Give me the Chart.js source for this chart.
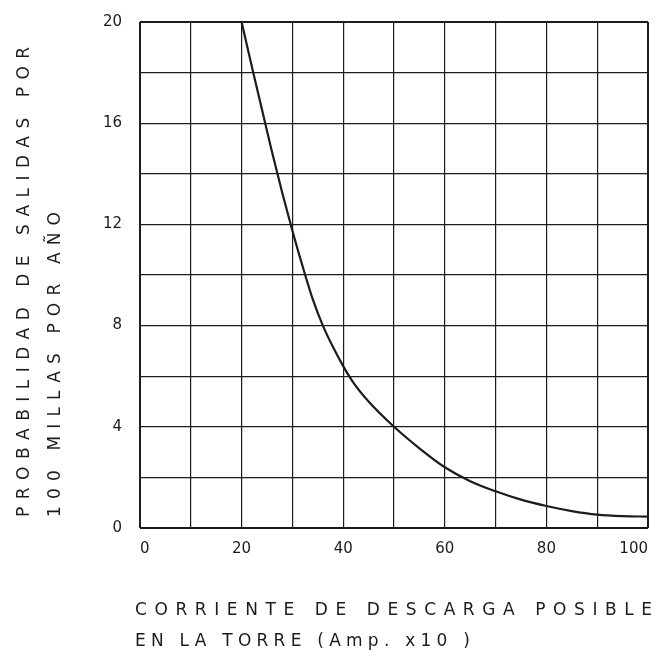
<!DOCTYPE html>
<html>
<head>
<meta charset="utf-8">
<script src="https://cdn.jsdelivr.net/npm/chart.js@4/dist/chart.umd.min.js"></script>
<style>
  html, body { margin: 0; padding: 0; background: #fff; }
  #wrap { width: 659px; height: 654px; }
</style>
</head>
<body>
<div id="wrap"><canvas id="curve-chart"></canvas></div>
<script>
// discharge current (Amp x10) vs. outages per 100 miles per year
const corriente = [20, 22, 24, 26, 28, 30, 32, 34, 36, 38, 40, 42, 45, 50, 55, 60, 65, 70, 75, 80, 85, 90, 95, 100];
const probabilidad = [20, 18.25, 16.55, 14.85, 13.25, 11.75, 10.35, 9.05, 8.0, 7.15, 6.4, 5.75, 5.0, 4.0, 3.15, 2.4, 1.85, 1.45, 1.12, 0.87, 0.67, 0.53, 0.47, 0.45];
const xLabels = [0, 20, 40, 60, 80, 100];
const yLabels = [0, 4, 8, 12, 16, 20];
const yTitle = ["PROBABILIDAD DE SALIDAS POR", "100 MILLAS POR AÑO"];
const xTitle = ["CORRIENTE DE DESCARGA POSIBLE", "EN LA TORRE (Amp. x10 )"];

const ink = '#1c1c1c';
const labelFont = '"DejaVu Sans", sans-serif';

// spread a line of lettering so it spans a given width
function spacedText(ctx, text, x, y, width) {
    ctx.letterSpacing = '0px';
    const natural = ctx.measureText(text).width;
    const gap = (width - natural) / (text.length - 1);
    ctx.letterSpacing = gap.toFixed(2) + 'px';
    ctx.fillText(text, x, y);
}

const axisTitles = {
    id: 'axisTitles',
    afterDraw(chart) {
        const ctx = chart.ctx;
        ctx.save();
        ctx.fillStyle = ink;
        ctx.font = '17px ' + labelFont;
        ctx.textAlign = 'left';
        ctx.textBaseline = 'middle';

        // vertical title, reading bottom to top
        const yCols = [25, 56];
        const yLens = [470, 305];
        yTitle.forEach((line, i) => {
            ctx.save();
            ctx.translate(yCols[i], 517);
            ctx.rotate(-Math.PI / 2);
            spacedText(ctx, line, 0, 0, yLens[i]);
            ctx.restore();
        });

        const xRows = [611, 642];
        const xLens = [517, 335];
        xTitle.forEach((line, i) => {
            spacedText(ctx, line, 135, xRows[i], xLens[i]);
        });
        ctx.restore();
    }
};

const edge = (v, last) => (v === 0 || v === last) ? 2 : 1.2;

const config = {
    type: 'line',
    data: {
        datasets: [{
            data: corriente.map((x, i) => ({ x: x, y: probabilidad[i] })),
            borderColor: ink,
            borderWidth: 2.2,
            pointRadius: 0,
            fill: false,
            cubicInterpolationMode: 'monotone'
        }]
    },
    options: {
        responsive: true,
        maintainAspectRatio: false,
        animation: false,
        layout: { padding: { top: 22, right: 11, left: 0, bottom: 0 } },
        plugins: {
            legend: { display: false },
            tooltip: { enabled: false }
        },
        scales: {
            x: {
                type: 'linear',
                min: 0,
                max: 100,
                afterFit: s => {
                    s.height = 126;
                    s.paddingLeft = 0;
                    s.paddingRight = 0;
                },
                border: { display: false },
                grid: {
                    color: ink,
                    lineWidth: c => edge(c.tick.value, 100),
                    drawTicks: false
                },
                ticks: {
                    stepSize: 10,
                    padding: 12,
                    maxRotation: 0,
                    autoSkip: false,
                    align: 'inner',
                    color: ink,
                    font: { family: labelFont, size: 15 },
                    callback: v => xLabels.includes(v) ? String(v) : ''
                }
            },
            y: {
                min: 0,
                max: 20,
                afterFit: s => {
                    s.width = 140;
                    s.paddingTop = 0;
                    s.paddingBottom = 0;
                },
                border: { display: false },
                grid: {
                    color: ink,
                    lineWidth: c => edge(c.tick.value, 20),
                    drawTicks: false
                },
                ticks: {
                    stepSize: 2,
                    padding: 18,
                    autoSkip: false,
                    color: ink,
                    font: { family: labelFont, size: 15 },
                    callback: v => yLabels.includes(v) ? String(v) : ''
                }
            }
        }
    },
    plugins: [axisTitles]
};

new Chart('curve-chart', config);
</script>
</body>
</html>
